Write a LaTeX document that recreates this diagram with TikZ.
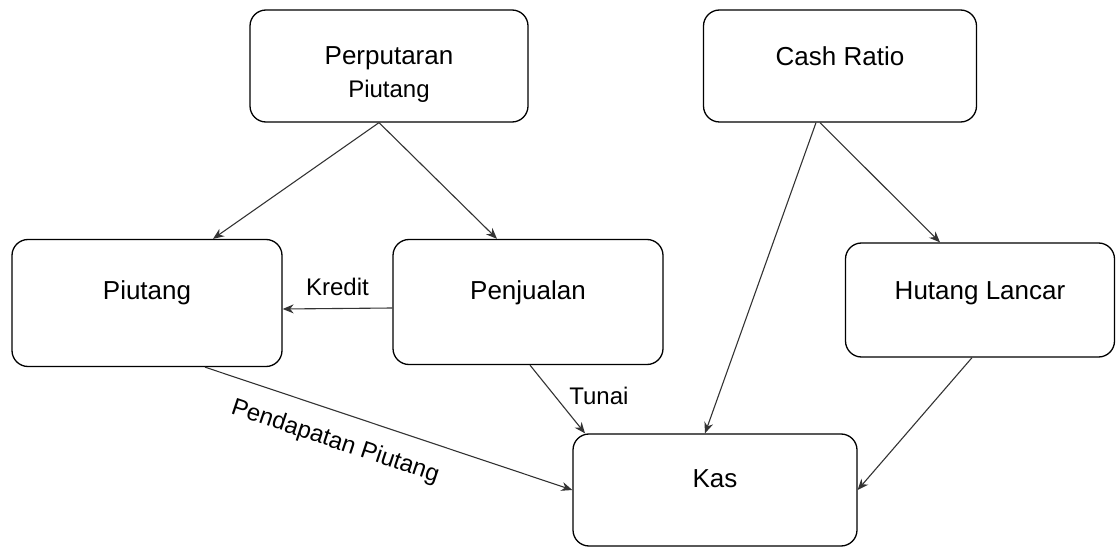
\documentclass[tikz,border=0pt]{standalone}
\usepackage{fontspec}
\setmainfont{Liberation Sans}
\usetikzlibrary{arrows.meta}
\newcommand{\liftby}[2]{\raisebox{#1}[\height][\depth]{#2}}
\newcommand{\flatlift}[2]{\raisebox{#1}[0pt][0pt]{#2}}
\begin{document}
\begin{tikzpicture}[x=1pt,y=-1pt,
  box/.style={draw=black, line width=1.3pt, rounded corners=16pt, fill=white, inner sep=0pt, font=\fontsize{26}{30}\selectfont, align=center},
  conn/.style={draw=black!80, line width=1.1pt, -{Stealth[length=11pt,width=9pt]}},
  lab/.style={font=\fontsize{24}{28}\selectfont, inner sep=2pt}]
\useasboundingbox (0,0) rectangle (1117,548);
\node[box, minimum width=278pt, minimum height=112pt] (pp) at (389,66) {\liftby{-9pt}{\begin{tabular}{@{}c@{}}Perputaran\\[3pt]{\fontsize{24}{28}\selectfont Piutang}\end{tabular}}};
\node[box, minimum width=273pt, minimum height=112pt] (cr) at (840,66) {\flatlift{0pt}{Cash Ratio}};
\node[box, minimum width=270pt, minimum height=127pt] (pi) at (147,303) {\flatlift{4pt}{Piutang}};
\node[box, minimum width=270pt, minimum height=125pt] (pj) at (528,302) {\flatlift{3pt}{Penjualan}};
\node[box, minimum width=269pt, minimum height=114pt] (hl) at (980,300) {\flatlift{1pt}{Hutang Lancar}};
\node[box, minimum width=284pt, minimum height=112pt] (ks) at (715,490) {\flatlift{3pt}{Kas}};
\draw[conn] ([xshift=-10pt]pp.south) -- ([xshift=66pt]pi.north);
\draw[conn] ([xshift=-10pt]pp.south) -- ([xshift=-31pt]pj.north);
\draw[conn] ([xshift=-24pt]cr.south) -- ([xshift=-10pt]ks.north);
\draw[conn] ([xshift=-20pt]cr.south) -- ([xshift=-40pt]hl.north);
\draw[conn] ([yshift=-6pt]pj.west) -- node[lab, above=10pt] {Kredit} ([yshift=-6pt]pi.east);
\draw[conn] ([xshift=2pt]pj.south) -- node[lab, right=12pt, pos=0.45] {Tunai} ([xshift=-130pt]ks.north);
\draw[conn] ([xshift=58pt]pi.south) -- node[lab, sloped, below=16pt, pos=0.38] {Pendapatan Piutang} (ks.west);
\draw[conn] ([xshift=-8pt]hl.south) -- (ks.east);
\end{tikzpicture}
\end{document}
